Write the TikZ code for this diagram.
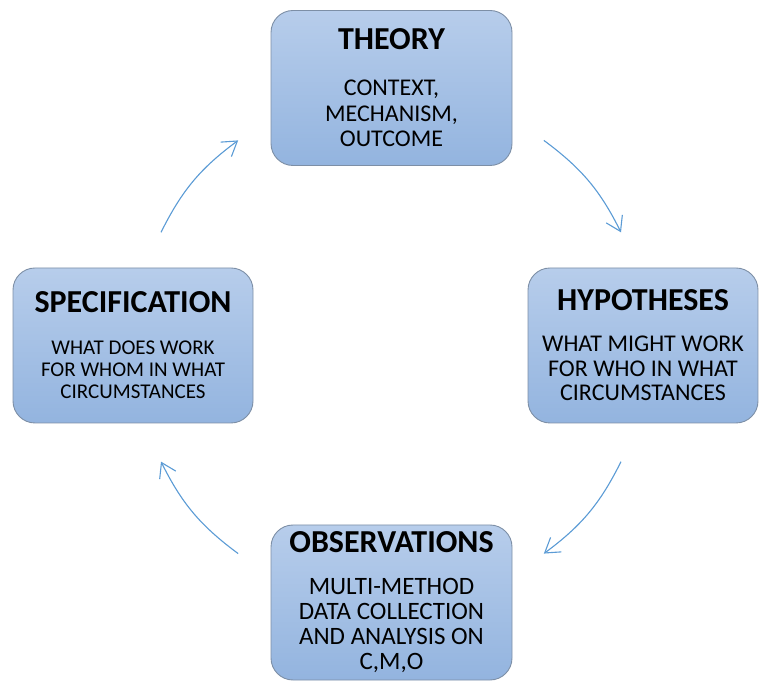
\documentclass[tikz,border=0pt]{standalone}
\usepackage{fontspec}
\setmainfont{Carlito}
\usetikzlibrary{arrows.meta,calc}

\definecolor{boxtop}{HTML}{B7CDEB}
\definecolor{boxbot}{HTML}{93B4DF}
\definecolor{boxline}{HTML}{7D8FA6}
\definecolor{arrowblue}{HTML}{5B9BD5}

\tikzset{
    stage/.style={draw=boxline, line width=0.9pt, rounded corners=22pt,
        top color=boxtop, bottom color=boxbot, align=center, inner sep=0pt,
        minimum height=155pt},
    turnarrow/.style={draw=arrowblue, line width=1.1pt,
        -{Straight Barb[length=14pt,width=18pt]}}
}

\newcommand{\stagetitle}[2]{{\fontsize{#1}{#1}\selectfont\bfseries #2}}

\begin{document}
\begin{tikzpicture}[x=1pt, y=1pt]
    \useasboundingbox (0,0) rectangle (759,682);

    % Stages
    \node[stage, minimum width=241pt, font=\fontsize{24}{25.5}\selectfont]
        (theory) at (391.5,594)
        {\stagetitle{32}{THEORY}\\[20.5pt]CONTEXT,\\MECHANISM,\\OUTCOME};
    \node[stage, minimum width=230pt, font=\fontsize{24}{24.5}\selectfont]
        (hypotheses) at (643,336.5)
        {\stagetitle{32}{HYPOTHESES}\\[16.5pt]WHAT MIGHT WORK\\FOR WHO IN WHAT\\CIRCUMSTANCES};
    \node[stage, minimum width=240pt, font=\fontsize{21}{22}\selectfont]
        (specification) at (133,336.5)
        {\stagetitle{32}{SPECIFICATION}\\[20pt]WHAT DOES WORK\\FOR WHOM IN WHAT\\CIRCUMSTANCES};
    \node[stage, minimum width=241pt, font=\fontsize{25}{25}\selectfont]
        (observations) at (391.5,79.5)
        {\stagetitle{32}{OBSERVATIONS}\\[17pt]MULTI-METHOD\\DATA COLLECTION\\AND ANALYSIS ON\\C,M,O};

    % Cycle arrows round the centre
    \coordinate (hub) at (391,335);
    \coordinate (theory-out) at ($(hub)+(53.5:257)$);
    \coordinate (hypotheses-in) at ($(hub)+(26.5:257)$);
    \coordinate (hypotheses-out) at ($(hub)+(-26.5:257)$);
    \coordinate (observations-in) at ($(hub)+(-53.5:257)$);
    \coordinate (observations-out) at ($(hub)+(-126.5:257)$);
    \coordinate (specification-in) at ($(hub)+(-153.5:257)$);
    \coordinate (specification-out) at ($(hub)+(153.5:257)$);
    \coordinate (theory-in) at ($(hub)+(126.5:257)$);

    \draw[turnarrow] (theory-out) to[bend left=13.5] (hypotheses-in);
    \draw[turnarrow] (hypotheses-out) to[bend left=13.5] (observations-in);
    \draw[turnarrow] (observations-out) to[bend left=13.5] (specification-in);
    \draw[turnarrow] (specification-out) to[bend left=13.5] (theory-in);
\end{tikzpicture}
\end{document}
